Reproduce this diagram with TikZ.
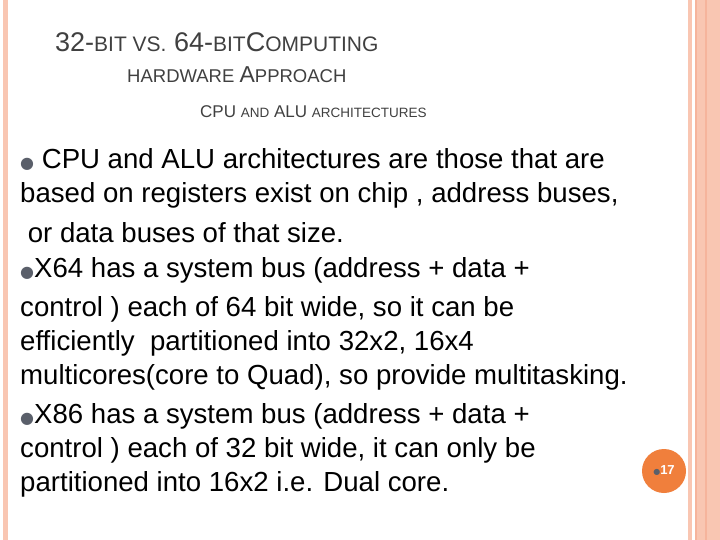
\documentclass[tikz,border=0pt]{standalone}
\usepackage{fontspec}
\setmainfont{Liberation Sans}
\newfontfamily\dv{DejaVu Sans}
\definecolor{bord}{HTML}{F9C6B2}
\definecolor{bordd}{HTML}{F6B49C}
\definecolor{tit}{HTML}{404040}
\definecolor{orng}{HTML}{F07F3C}
\definecolor{bul}{HTML}{5A5F6A}
\newcommand{\bl}{{\dv\color{bul}\fontsize{16}{16}\selectfont ●}}
\begin{document}
\begin{tikzpicture}[x=1pt,y=-1pt,
  line/.style={anchor=base west,inner sep=0,font=\fontsize{27.6}{30}\selectfont,text=black},
  tl/.style={anchor=base west,inner sep=0,text=tit}]
\useasboundingbox (0,0) rectangle (720,540);
\fill[white] (0,0) rectangle (720,540);
\fill[bord] (3,0) rectangle (8,540);
\fill[bord] (688,0) rectangle (692,540);
\fill[bordd] (695,0) rectangle (697,540);
\fill[bord] (697,0) rectangle (705,540);
\fill[bordd] (705,0) rectangle (707,540);
\fill[bord] (707,0) rectangle (720,540);
\node[tl] (t1) at (55,52) {\fontsize{27}{27}\selectfont 32-{\fontsize{21}{21}\selectfont BIT VS.} 64-{\fontsize{21}{21}\selectfont BIT}C{\fontsize{21}{21}\selectfont OMPUTING}};
\node[tl] (t2) at (127,83) {\fontsize{18.5}{18}\selectfont HARDWARE {\fontsize{23}{23}\selectfont A}PPROACH};
\node[tl] (t3) at (200,118) {\fontsize{17}{17}\selectfont CPU {\fontsize{13.5}{13}\selectfont AND} ALU {\fontsize{13.5}{13}\selectfont ARCHITECTURES}};
\node[line] (l1) at (20,169) {\bl\ CPU and ALU architectures are those that are};
\node[line] (l2) at (20,203) {based on registers exist on chip , address buses,};
\node[line] (l3) at (20,243) {\ or data buses of that size.};
\node[line] (l4) at (20,277) {\bl X64 has a system bus (address + data +};
\node[line] (l5) at (20,316) {control ) each of 64 bit wide, so it can be};
\node[line] (l6) at (20,350) {efficiently\ \ partitioned into 32x2, 16x4};
\node[line] (l7) at (20,384) {multicores(core to Quad), so provide multitasking.};
\node[line] (l8) at (20,423) {\bl X86 has a system bus (address + data +};
\node[line] (l9) at (20,457) {control ) each of 32 bit wide, it can only be};
\node[line] (l10) at (20,491) {partitioned into 16x2 i.e. Dual core.};
\node[circle,fill=orng,minimum size=44,inner sep=0,text=white,font=\bfseries\fontsize{13}{13}\selectfont] (pg) at (664,471) {{\dv\color{bul}\fontsize{8}{8}\selectfont ●}17};
\end{tikzpicture}
\end{document}
